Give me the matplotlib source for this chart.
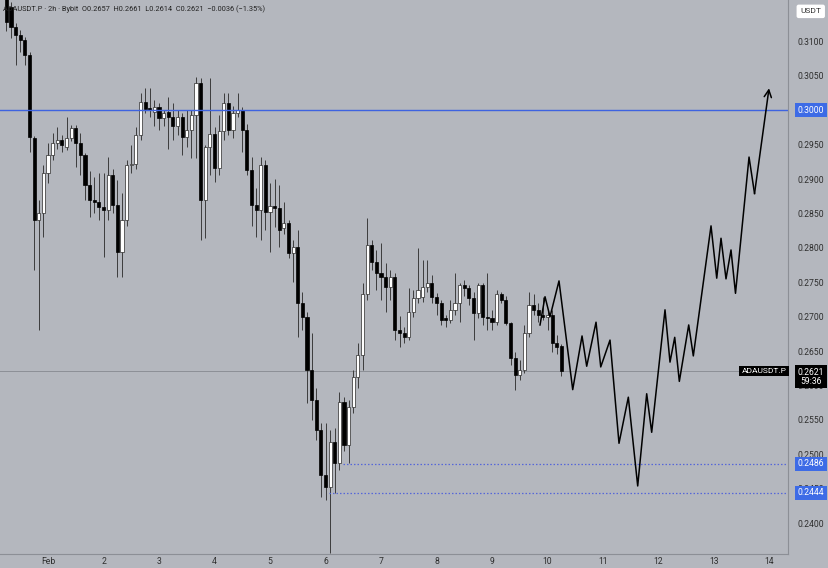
import numpy as np
import pandas as pd
import matplotlib
matplotlib.use('Agg')
import matplotlib.pyplot as plt
import matplotlib.dates as mdates

# Candle data ADAUSDT.P 2h
opens = [.3170, .3150, .3121, .3110, .3102, .3080, .2960, .2840, .2851, .2909,
         .2935, .2952, .2957, .2947, .2960, .2974, .2952, .2935, .2891, .2870,
         .2867, .2860, .2855, .2906, .2862, .2794, .2840, .2921, .2922, .2964,
         .3012, .3003, .2998, .3005, .2989, .2997, .2990, .2977, .2990, .2961,
         .2971, .2993, .3040, .2870, .2947, .2966, .2916, .2970, .3010, .2971,
         .2996, .3000, .2971, .2913, .2862, .2855, .2921, .2852, .2861, .2858,
         .2829, .2836, .2793, .2801, .2720, .2700, .2623, .2579, .2535, .2470,
         .2452, .2518, .2487, .2576, .2513, .2569, .2612, .2644, .2733, .2804,
         .2780, .2764, .2758, .2743, .2758, .2681, .2676, .2670, .2707, .2727,
         .2729, .2743, .2749, .2729, .2720, .2698, .2695, .2710, .2720, .2746,
         .2742, .2727, .2705, .2746, .2700, .2698, .2692, .2733, .2724, .2691,
         .2640, .2615, .2623, .2676, .2717, .2710, .2703, .2700, .2703, .2662,
         .2657]
highs = [.3180, .3158, .3127, .3116, .3107, .3085, .2962, .2870, .2921, .2952,
         .2967, .2975, .2964, .2990, .2979, .2978, .2967, .2938, .2912, .2903,
         .2909, .2909, .2932, .2914, .2898, .2880, .2928, .2950, .2975, .3025,
         .3032, .3032, .3015, .3011, .3000, .3019, .3011, .3000, .2996, .3000,
         .3000, .3048, .3047, .2950, .3047, .2976, .2993, .3025, .3025, .3006,
         .3025, .3005, .2980, .2932, .2887, .2932, .2928, .2894, .2900, .2891,
         .2866, .2840, .2811, .2826, .2736, .2707, .2676, .2596, .2546, .2546,
         .2535, .2538, .2590, .2583, .2579, .2623, .2662, .2749, .2843, .2811,
         .2797, .2807, .2778, .2768, .2764, .2701, .2685, .2742, .2739, .2800,
         .2782, .2782, .2760, .2735, .2724, .2703, .2724, .2764, .2749, .2753,
         .2746, .2736, .2749, .2749, .2764, .2710, .2739, .2736, .2730, .2692,
         .2649, .2637, .2688, .2736, .2733, .2720, .2729, .2710, .2710, .2673,
         .2661]
lows = [.3115, .3105, .3066, .3085, .3066, .2940, .2768, .2681, .2816, .2895,
        .2928, .2944, .2940, .2942, .2955, .2918, .2906, .2870, .2845, .2851,
        .2840, .2787, .2840, .2850, .2758, .2758, .2832, .2909, .2915, .2957,
        .2996, .2990, .2977, .2971, .2977, .2944, .2957, .2964, .2935, .2947,
        .2930, .2930, .2811, .2814, .2906, .2896, .2906, .2957, .2964, .2960,
        .2990, .2940, .2906, .2832, .2816, .2811, .2826, .2794, .2830, .2801,
        .2820, .2785, .2750, .2670, .2681, .2575, .2550, .2521, .2438, .2434,
        .2356, .2444, .2477, .2505, .2487, .2560, .2597, .2623, .2724, .2768,
        .2739, .2724, .2707, .2724, .2666, .2656, .2662, .2666, .2700, .2720,
        .2722, .2736, .2720, .2703, .2688, .2685, .2691, .2703, .2692, .2730,
        .2717, .2666, .2698, .2688, .2681, .2681, .2688, .2720, .2688, .2630,
        .2594, .2608, .2618, .2670, .2703, .2692, .2695, .2681, .2649, .2646,
        .2614]
closes = [.3128, .3121, .3110, .3102, .3080, .2961, .2840, .2851, .2909, .2935,
          .2952, .2957, .2950, .2960, .2974, .2952, .2935, .2891, .2870, .2867,
          .2860, .2855, .2906, .2862, .2794, .2840, .2921, .2922, .2964, .3012,
          .3002, .3000, .3005, .2989, .2996, .2990, .2977, .2990, .2961, .2971,
          .2993, .3040, .2870, .2947, .2966, .2916, .2970, .3010, .2971, .2996,
          .3000, .2971, .2913, .2862, .2855, .2921, .2852, .2861, .2858, .2826,
          .2836, .2793, .2801, .2720, .2700, .2623, .2579, .2535, .2470, .2452,
          .2518, .2487, .2576, .2513, .2569, .2612, .2644, .2733, .2804, .2780,
          .2764, .2758, .2743, .2758, .2681, .2676, .2670, .2707, .2727, .2739,
          .2743, .2749, .2729, .2720, .2695, .2695, .2710, .2720, .2746, .2742,
          .2727, .2705, .2746, .2700, .2698, .2692, .2733, .2724, .2691, .2640,
          .2615, .2623, .2676, .2717, .2710, .2703, .2700, .2703, .2662, .2656,
          .2621]
last_bar = '2026-02-10 06:00'

# Proyeksi zigzag (hari sejak 1 Feb, harga)
zig_days = [8.865, 8.955, 9.045, 9.207, 9.454, 9.622, 9.706, 9.874, 9.959, 10.126,
            10.288, 10.456, 10.625, 10.787, 10.877, 11.117, 11.207, 11.292, 11.375,
            11.544, 11.627, 11.946, 12.049, 12.126, 12.216, 12.306, 12.387, 12.631,
            12.730, 12.991]
zig_price = [.2688, .2729, .2700, .2752, .2594, .2672, .2628, .2692, .2627, .2666,
             .2516, .2583, .2454, .2588, .2532, .2710, .2634, .2670, .2606,
             .2688, .2643, .2832, .2756, .2814, .2755, .2797, .2734, .2932,
             .2879, .3032]

level_res = 0.3000
level_sup = [0.2486, 0.2444]
sup_start = ['2026-02-06 06:00', '2026-02-06 00:00']
last_price = 0.2621
price_ticks = np.arange(0.2400, 0.31001, 0.005)
day_labels = ['Feb', '2', '3', '4', '5', '6', '7', '8', '9', '10', '11', '12', '13', '14']

bg = '#b4b7be'
plt.rcParams['font.family'] = ['Roboto', 'DejaVu Sans']

fig = plt.figure(figsize=(8.29, 5.68), dpi=100, facecolor=bg)
ax = fig.add_axes([0, 14 / 568, 788 / 829, 554 / 568], facecolor=bg)

times = pd.date_range(end=last_bar, periods=len(opens), freq='2h')
x = mdates.date2num(times.to_pydatetime())
o = np.array(opens); h = np.array(highs); l = np.array(lows); c = np.array(closes)
up = c >= o
body_lo = np.minimum(o, c)
body_h = np.maximum(np.abs(c - o), 0.00012)

ax.vlines(x, l, h, color='#3c3c3c', lw=0.7, zorder=2)
ax.bar(x[up], body_h[up], bottom=body_lo[up], width=0.058, color='white',
       edgecolor='#2a2a2a', linewidth=0.5, zorder=3)
ax.bar(x[~up], body_h[~up], bottom=body_lo[~up], width=0.058, color='black',
       edgecolor='black', linewidth=0.5, zorder=3)

feb1 = mdates.date2num(pd.Timestamp('2026-02-01').to_pydatetime())
ax.set_xlim(feb1 - 0.865, feb1 + 13.333)
ax.set_ylim(0.23551, 0.31603)

# garis level
ax.axhline(level_res, color='#3e63e0', lw=1.0, zorder=4)
ax.axhline(last_price, color='#8c8f96', lw=0.7, zorder=1)
for lv, st in zip(level_sup, sup_start):
    xs = mdates.date2num(pd.Timestamp(st).to_pydatetime())
    ax.hlines(lv, xs + 0.06, ax.get_xlim()[1], color='#5567d8', lw=0.9,
              linestyles=(0, (1.2, 1.6)), zorder=4)

# zigzag + panah
zx = feb1 + np.array(zig_days)
ax.plot(zx[:-1], zig_price[:-1], color='black', lw=1.1, zorder=5)
ax.annotate('', xy=(zx[-1], zig_price[-1]), xytext=(zx[-2], zig_price[-2]),
            arrowprops=dict(arrowstyle='->', color='black', lw=1.1,
                            mutation_scale=13, shrinkA=0, shrinkB=0), zorder=5)

# sumbu
ax.set_xticks([feb1 + i for i in range(len(day_labels))])
ax.set_xticklabels(day_labels)
ax.yaxis.tick_right()
ax.set_yticks(price_ticks)
ax.set_yticklabels(['%.4f' % p for p in price_ticks])
ax.tick_params(axis='y', length=0, pad=7, labelsize=6.2, labelcolor='#2e2e2e')
ax.tick_params(axis='x', length=0, pad=2.5, labelsize=6.2, labelcolor='#2e2e2e')
for s in ['top', 'left']:
    ax.spines[s].set_visible(False)
for s in ['right', 'bottom']:
    ax.spines[s].set_color('#8c8f96')
    ax.spines[s].set_linewidth(0.8)

# label harga di kanan
tr = ax.get_yaxis_transform()
def price_box(y, txt, fc, tc='white'):
    ax.text(1.0293, y, txt, transform=tr, ha='center', va='center', fontsize=6.2,
            color=tc, zorder=10, clip_on=False,
            bbox=dict(boxstyle='square,pad=0.3', fc=fc, ec='none'))

price_box(level_res, '%.4f' % level_res, '#3d6be6')
for lv in level_sup:
    price_box(lv, '%.4f' % lv, '#3d6be6')
ax.text(1.0293, last_price - 0.0008, '%.4f\n59:36' % last_price, transform=tr,
        ha='center', va='center', fontsize=6.2, color='white', linespacing=1.0,
        zorder=10, clip_on=False,
        bbox=dict(boxstyle='square,pad=0.3', fc='black', ec='none'))
ax.text(0.998, last_price, 'ADAUSDT.P', transform=tr, ha='right', va='center',
        fontsize=6.0, color='white', zorder=10,
        bbox=dict(boxstyle='square,pad=0.25', fc='black', ec='none'))

fig.text(0.978, 0.980, 'USDT', ha='center', va='center', fontsize=6.0, color='#333333',
         bbox=dict(boxstyle='round,pad=0.45,rounding_size=0.25', fc='white', ec='none'))

fig.text(0.004, 0.984,
         'ADAUSDT.P · 2h · Bybit  O0.2657  H0.2661  L0.2614  C0.2621  \u22120.0036 (\u22121.35%)',
         ha='left', va='center', fontsize=5.3, color='#222222', zorder=10)

fig.savefig('out.png', dpi=100, facecolor=bg)
